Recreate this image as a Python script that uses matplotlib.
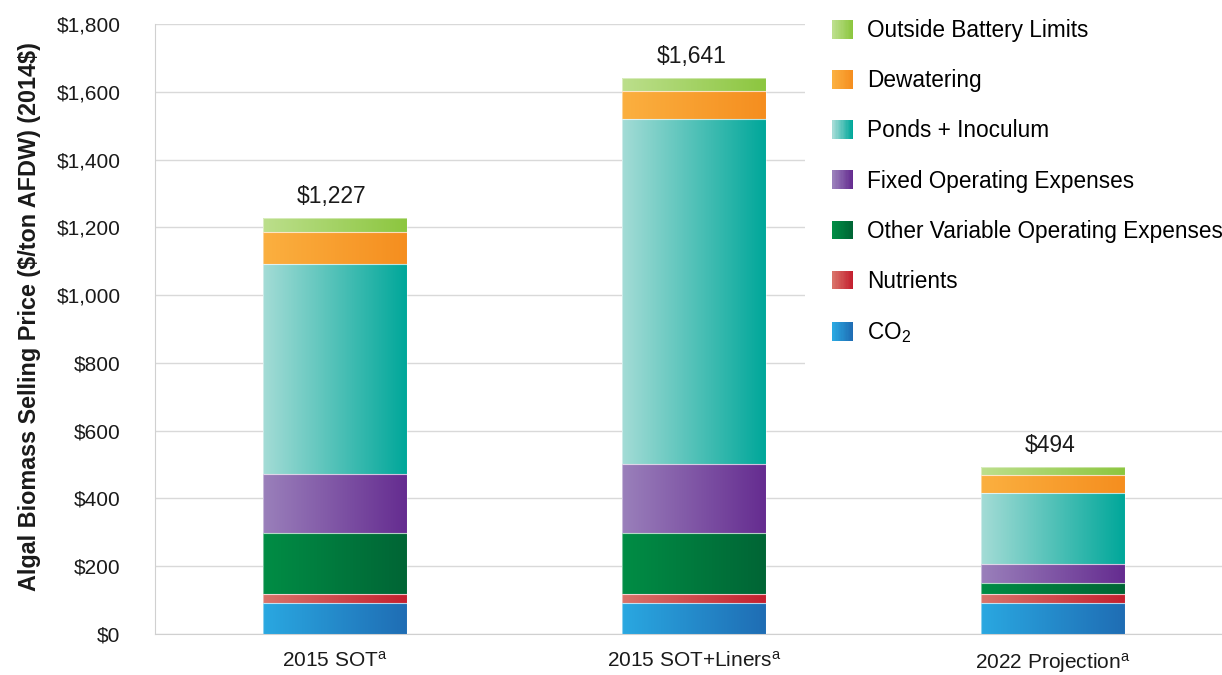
import matplotlib
matplotlib.use("Agg")
import matplotlib.pyplot as plt
import numpy as np
from matplotlib.colors import LinearSegmentedColormap, to_rgb
from matplotlib.legend_handler import HandlerBase
from matplotlib.patches import Rectangle
from matplotlib.ticker import FuncFormatter

plt.rcParams["font.family"] = ["Liberation Sans", "DejaVu Sans"]
plt.rcParams["mathtext.fontset"] = "custom"
plt.rcParams["mathtext.rm"] = "Liberation Sans"
plt.rcParams["mathtext.default"] = "regular"

# data ($/ton AFDW, 2014$)
scenarios = ["2015 SOT", "2015 SOT+Liners", "2022 Projection"]
totals = [1227, 1641, 494]

co2 = [93, 93, 93]
nutrients = [25, 25, 24]
other_var_opex = [181, 179, 33]
fixed_opex = [172, 204, 57]
ponds_inoculum = [620, 1018, 209]
dewatering = [95, 83, 54]
outside_battery = [41, 39, 24]

components = [
    ("CO$_2$", co2, "#2aa8e1", "#1f6db4"),
    ("Nutrients", nutrients, "#d9736a", "#c4202f"),
    ("Other Variable Operating Expenses", other_var_opex, "#008d45", "#006535"),
    ("Fixed Operating Expenses", fixed_opex, "#9a80bb", "#652c90"),
    ("Ponds + Inoculum", ponds_inoculum, "#a4dcd6", "#00a79a"),
    ("Dewatering", dewatering, "#fbb040", "#f58e1f"),
    ("Outside Battery Limits", outside_battery, "#bcdf8c", "#8cc63f"),
]


class GradKey:
    def __init__(self, c0, c1):
        self.c0, self.c1 = c0, c1


class GradHandler(HandlerBase):
    def create_artists(self, legend, h, xd, yd, width, height, fontsize, trans):
        a, b = np.array(to_rgb(h.c0)), np.array(to_rgb(h.c1))
        n = 16
        out = []
        for i in range(n):
            col = a + (b - a) * i / (n - 1)
            out.append(Rectangle((-xd + i * width / n, -yd), width / n * 1.1, height,
                                 facecolor=col, edgecolor="none", transform=trans))
        return out


fig = plt.figure(figsize=(12.22, 6.75), dpi=100)
ax = fig.add_axes([0.127, 0.0607, 0.873, 0.9037])

x = np.arange(len(scenarios))
width = 0.40
bottom = np.zeros(len(scenarios))
grad = np.linspace(0, 1, 256).reshape(1, -1)
handles, labels = [], []
for name, vals, c0, c1 in components:
    vals = np.array(vals, dtype=float)
    bars = ax.bar(x, vals, width, bottom=bottom, facecolor="none",
                  edgecolor=(1, 1, 1, 0.45), linewidth=0.8, zorder=4)
    cmap = LinearSegmentedColormap.from_list(name, [c0, c1])
    for r in bars:
        im = ax.imshow(grad, cmap=cmap, aspect="auto", zorder=3, interpolation="nearest",
                       extent=[r.get_x(), r.get_x() + r.get_width(),
                               r.get_y(), r.get_y() + r.get_height()])
        im.set_clip_path(r)
    bottom += vals
    handles.append(GradKey(c0, c1))
    labels.append(name)

for xi, t in zip(x, totals):
    ax.annotate(f"${t:,}", (xi, t), xytext=(-2, 7), textcoords="offset points",
                ha="center", va="bottom", fontsize=16.5, color="#1a1a1a")

ax.set_xlim(-0.5, 2.47)
ax.set_ylim(0, 1800)
ax.set_yticks(np.arange(0, 1801, 200))
ax.yaxis.set_major_formatter(FuncFormatter(lambda v, _: f"${int(v):,}"))
ax.set_xticks(x)
ax.set_xticklabels([s + r"$^{\mathregular{a}}$" for s in scenarios], fontsize=15)
ax.tick_params(axis="y", length=0, pad=25, labelsize=15, labelcolor="#1a1a1a")
ax.tick_params(axis="x", length=0, pad=12, labelcolor="#1a1a1a")
ax.grid(axis="y", color="#d9d9d9", linewidth=1, zorder=0)
ax.set_axisbelow(True)
for s in ["top", "right"]:
    ax.spines[s].set_visible(False)
for s in ["left", "bottom"]:
    ax.spines[s].set_color("#d0d0d0")
ax.set_ylabel("Algal Biomass Selling Price (\\$/ton AFDW) (2014\\$)",
              fontsize=16.8, fontweight="bold", color="#1a1a1a")
ax.yaxis.set_label_coords(-0.107, 0.52)

leg = ax.legend(handles[::-1], labels[::-1], handler_map={GradKey: GradHandler()},
                loc="upper left", bbox_to_anchor=(0.659, 1.012), bbox_transform=fig.transFigure,
                fontsize=16.3, frameon=True, facecolor="white", edgecolor="none", framealpha=1,
                fancybox=False, handlelength=0.9, handleheight=0.9, handletextpad=0.62,
                labelspacing=1.2, borderpad=1.2, borderaxespad=0)
leg.set_zorder(10)

fig.savefig("out.png", dpi=100)
